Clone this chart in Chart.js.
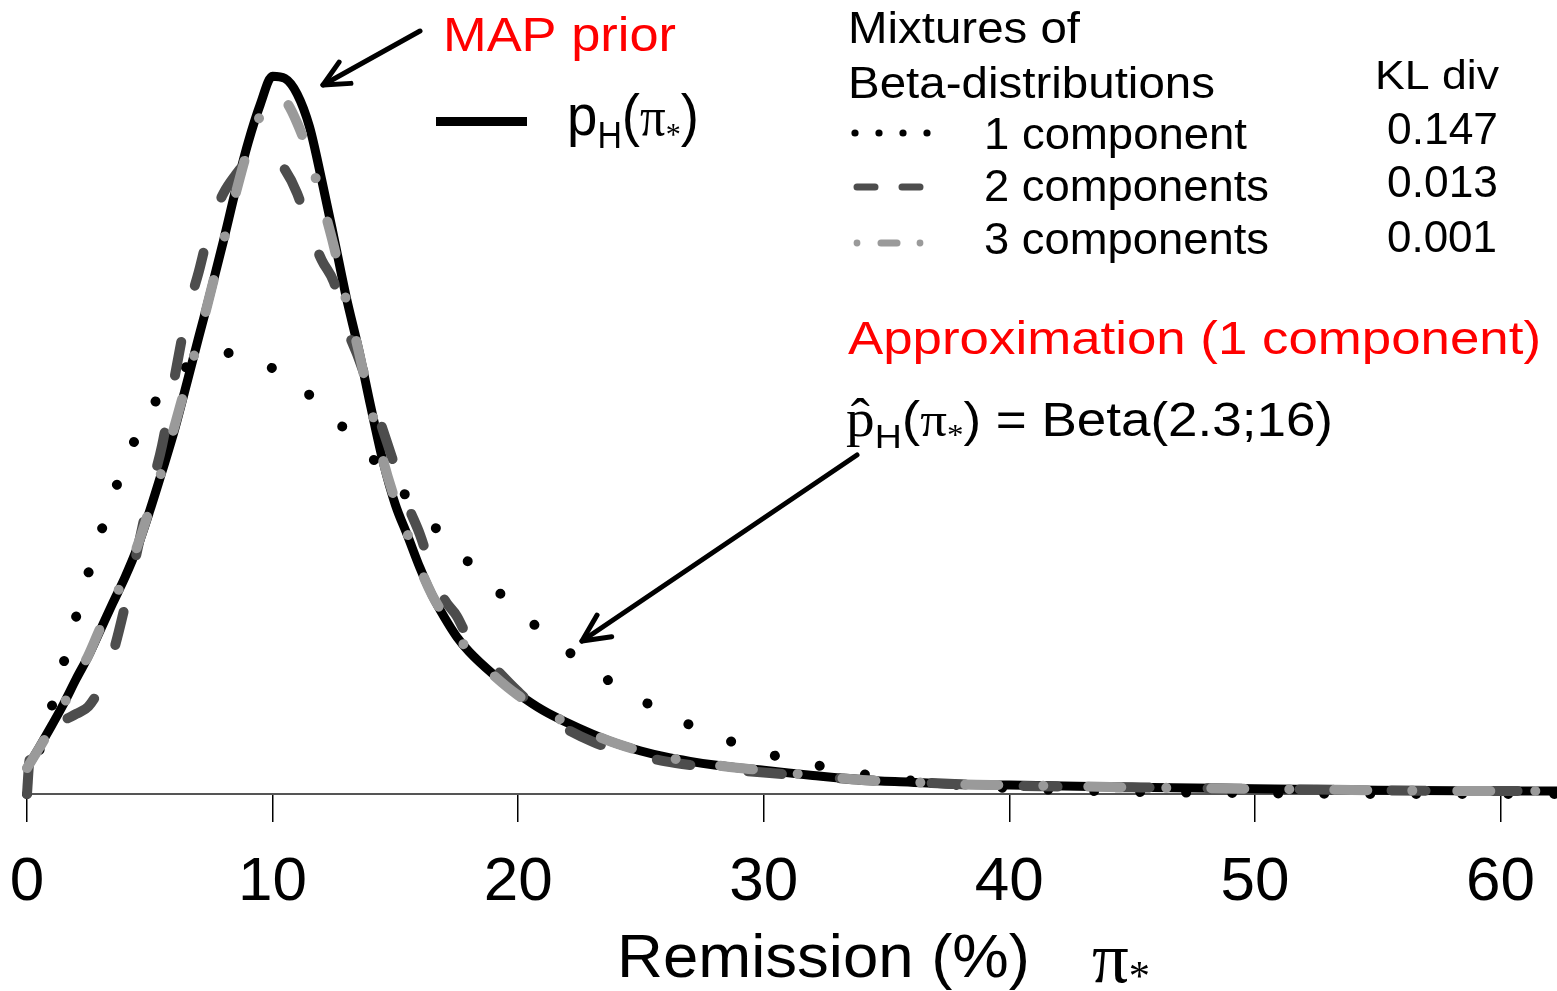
<!DOCTYPE html>
<html><head><meta charset="utf-8">
<script src="https://cdn.jsdelivr.net/npm/chart.js@4/dist/chart.umd.min.js"></script>
<style>html,body{margin:0;padding:0;background:#fff;overflow:hidden}</style>
</head><body>
<canvas id="c" width="1557" height="991"></canvas>
<script>
// ---- data (x = remission %, y = density per %) ----
const xTicks = [0, 10, 20, 30, 40, 50, 60];

const xMAP = [0,0.5,1,1.5,2,2.5,3,3.5,4,4.5,5,5.5,6,6.5,7,7.5,8,8.5,9,9.5,10,10.5,11,11.5,12,12.5,13,13.5,14,14.5,15,15.5,16,16.5,17,17.5,18,19,20,21,22,23,24,25,26,27,28,29,30,32,34,36,38,40,45,50,55,60,62.3];
const yMAP = [0.0035,0.0063,0.0092,0.0122,0.0155,0.0186,0.0222,0.0258,0.0293,0.0333,0.0382,0.0435,0.0490,0.0553,0.0617,0.0680,0.0746,0.0815,0.0878,0.0930,0.0968,0.0965,0.0944,0.0900,0.0828,0.0750,0.0670,0.0600,0.0522,0.0448,0.0390,0.0348,0.0305,0.0268,0.0238,0.0212,0.0192,0.0161,0.0135,0.0113,0.0096,0.0081,0.0068,0.0058,0.0050,0.0044,0.0039,0.0035,0.0032,0.0025,0.0019,0.0016,0.0013,0.0012,0.0009,0.0007,0.0005,0.0004,0.0004];

const x1c = [0,1,1.5,2,2.5,3,3.5,4,4.5,5,6,7,8,9,10,11,12,13,14,15,16,17,18,19,20,21,22,23,24,25,26,27,28,29,30,31,32,33,34,35,36,38,40,45,50,55,62.3];
const y1c = [0,0.0117,0.0178,0.0239,0.0298,0.0352,0.0402,0.0447,0.0485,0.0517,0.0562,0.0586,0.0595,0.0589,0.0574,0.0552,0.0523,0.0490,0.0455,0.0418,0.0382,0.0346,0.0312,0.0279,0.0247,0.0219,0.0193,0.0169,0.0146,0.0127,0.0109,0.0093,0.0079,0.0067,0.0056,0.0047,0.0040,0.0033,0.0027,0.0022,0.0018,0.0012,0.0008,0.0003,0.0001,0,0];

const x2c = [0,0.1,0.5,1,1.5,2,2.5,3,3.5,4,4.5,5,5.5,6,6.5,7,7.5,8,8.5,9,9.5,10,10.5,11,11.5,12,12.5,13,13.5,14,14.5,15,15.5,16,16.5,17,17.5,18,19,20,21,22,23,24,25,26,27,28,30,32,34,36,38,40,45,50,55,60,62.3];
const y2c = [0,0.0045,0.0068,0.0085,0.0099,0.0108,0.0118,0.0145,0.0190,0.0255,0.0330,0.0405,0.0470,0.0560,0.0645,0.0705,0.0770,0.0810,0.0835,0.0855,0.0865,0.0860,0.0842,0.0810,0.0760,0.0720,0.0690,0.0630,0.0588,0.0540,0.0490,0.0440,0.0390,0.0350,0.0300,0.0262,0.0240,0.0208,0.0172,0.0138,0.0108,0.0087,0.0071,0.0059,0.0051,0.0044,0.0039,0.0035,0.0029,0.0024,0.0019,0.0016,0.0013,0.0011,0.0009,0.0007,0.0005,0.0004,0.0004];

const x3c = [0,0.5,1,1.5,2,2.5,3,3.5,4,4.5,5,5.5,6,6.5,7,7.5,8,8.5,9,9.5,10,10.5,11,11.5,12,12.5,13,13.5,14,14.5,15,15.5,16,16.5,17,17.5,18,19,20,21,22,23,24,25,26,27,28,29,30,32,34,36,38,40,45,50,55,60,62.3];
const y3c = [0.0035,0.0062,0.0090,0.0121,0.0155,0.0187,0.0225,0.0259,0.0295,0.0335,0.0385,0.0437,0.0495,0.0555,0.0615,0.0680,0.0745,0.0810,0.0870,0.0915,0.0940,0.0935,0.0905,0.0860,0.0800,0.0738,0.0665,0.0598,0.0522,0.0450,0.0395,0.0350,0.0305,0.0268,0.0240,0.0214,0.0193,0.0160,0.0133,0.0113,0.0096,0.0081,0.0068,0.0058,0.0050,0.0044,0.0039,0.0035,0.0032,0.0025,0.0019,0.0016,0.0013,0.0012,0.0009,0.0007,0.0005,0.0004,0.0004];

const seriesNames = ['pH(π*)', '1 component', '2 components', '3 components'];
const klDiv = ['0.147', '0.013', '0.001'];

// ---- helpers ----
const SANS = '"Liberation Sans", Arial, Helvetica, sans-serif';
const SERIF = '"Liberation Serif", "Times New Roman", serif';
const pts = (xs, ys) => xs.map((x, i) => ({x: x, y: ys[i]}));

function rich(ctx, segs, left, baseline, width) {
  let total = 0;
  const ws = segs.map(s => { ctx.font = s.font; const w = ctx.measureText(s.t).width; total += w; return w; });
  const sx = width ? width / total : 1;
  ctx.save();
  ctx.translate(left, baseline);
  ctx.scale(sx, 1);
  ctx.textBaseline = 'alphabetic';
  ctx.textAlign = 'left';
  let x = 0;
  segs.forEach((s, i) => {
    ctx.font = s.font;
    ctx.fillStyle = s.color || '#000';
    ctx.fillText(s.t, x, s.dy || 0);
    x += ws[i];
  });
  ctx.restore();
}
function txt(ctx, t, left, baseline, size, width, color) {
  rich(ctx, [{t: t, font: size + 'px ' + SANS, color: color}], left, baseline, width);
}
function arrow(ctx, x1, y1, x2, y2, head) {
  ctx.save();
  ctx.strokeStyle = '#000';
  ctx.lineWidth = 5;
  ctx.lineCap = 'round';
  ctx.lineJoin = 'round';
  ctx.beginPath(); ctx.moveTo(x1, y1); ctx.lineTo(x2, y2); ctx.stroke();
  const a = Math.atan2(y2 - y1, x2 - x1);
  ctx.beginPath();
  ctx.moveTo(x2 - head * Math.cos(a - 0.45), y2 - head * Math.sin(a - 0.45));
  ctx.lineTo(x2, y2);
  ctx.lineTo(x2 - head * Math.cos(a + 0.45), y2 - head * Math.sin(a + 0.45));
  ctx.stroke();
  ctx.restore();
}

const annotations = {
  id: 'annotations',
  afterDraw(chart) {
    const ctx = chart.ctx;
    // MAP prior
    txt(ctx, 'MAP prior', 443, 51, 49, 233, '#ff0000');
    arrow(ctx, 420, 31, 323, 85, 28);
    // solid legend line
    ctx.save();
    ctx.strokeStyle = '#000'; ctx.lineWidth = 9; ctx.lineCap = 'butt';
    ctx.beginPath(); ctx.moveTo(436, 121.5); ctx.lineTo(527, 121.5); ctx.stroke();
    ctx.restore();
    rich(ctx, [
      {t: 'p', font: '58px ' + SANS},
      {t: 'H', font: '36px ' + SANS, dy: 13},
      {t: '(', font: '58px ' + SANS},
      {t: 'π', font: '54px ' + SERIF},
      {t: '*', font: '32px ' + SERIF, dy: 10},
      {t: ')', font: '58px ' + SANS}
    ], 567, 135, 132);

    // Mixtures legend
    txt(ctx, 'Mixtures of', 848, 43, 44, 232);
    txt(ctx, 'Beta-distributions', 848, 98, 44, 367);
    txt(ctx, 'KL div', 1375, 89, 40, 124);
    txt(ctx, '1 component', 984, 149, 45, 263);
    txt(ctx, '2 components', 984, 201, 45, 285);
    txt(ctx, '3 components', 984, 254, 45, 285);
    txt(ctx, klDiv[0], 1387, 144, 44, 111);
    txt(ctx, klDiv[1], 1387, 197, 44, 111);
    txt(ctx, klDiv[2], 1387, 252, 44, 110);
    // legend samples
    ctx.save();
    ctx.fillStyle = '#000';
    [855, 879, 903, 927].forEach(x => { ctx.beginPath(); ctx.arc(x, 133, 3.6, 0, 2 * Math.PI); ctx.fill(); });
    ctx.lineCap = 'round'; ctx.lineWidth = 7;
    ctx.strokeStyle = '#4d4d4d';
    ctx.beginPath(); ctx.moveTo(857, 187); ctx.lineTo(875, 187); ctx.moveTo(902, 187); ctx.lineTo(920, 187); ctx.stroke();
    ctx.strokeStyle = '#9a9a9a';
    ctx.beginPath(); ctx.moveTo(881, 243); ctx.lineTo(897, 243); ctx.stroke();
    ctx.fillStyle = '#9a9a9a';
    [857, 920].forEach(x => { ctx.beginPath(); ctx.arc(x, 243, 3.4, 0, 2 * Math.PI); ctx.fill(); });
    ctx.restore();

    // Approximation
    txt(ctx, 'Approximation (1 component)', 848, 354, 46, 693, '#ff0000');
    rich(ctx, [
      {t: 'p\u0302', font: '52px ' + SERIF},
      {t: 'H', font: '34px ' + SANS, dy: 12},
      {t: '(', font: '50px ' + SANS},
      {t: 'π', font: '48px ' + SERIF},
      {t: '*', font: '30px ' + SERIF, dy: 8},
      {t: ') = Beta(2.3;16)', font: '48px ' + SANS}
    ], 846, 436, 487);
    arrow(ctx, 857, 455, 582, 641, 30);

    // axis title
    txt(ctx, 'Remission (%)', 617, 977, 62, 413);
    rich(ctx, [
      {t: 'π', font: '72px ' + SERIF},
      {t: '*', font: '42px ' + SERIF, dy: 8}
    ], 1092, 982, 58);
  }
};

new Chart(document.getElementById('c'), {
  type: 'line',
  data: {
    datasets: [
      {label: seriesNames[0], data: pts(xMAP, yMAP), borderColor: '#000', borderWidth: 9,
       borderCapStyle: 'round', borderJoinStyle: 'round', cubicInterpolationMode: 'monotone', order: 4, clip: false},
      {label: seriesNames[1], data: pts(x1c, y1c), borderColor: '#000', borderWidth: 10,
       borderDash: [0.01, 46], borderCapStyle: 'round', cubicInterpolationMode: 'monotone', order: 3, clip: false},
      {label: seriesNames[2], data: pts(x2c, y2c), borderColor: '#4d4d4d', borderWidth: 10,
       borderDash: [34, 58], borderCapStyle: 'round', borderJoinStyle: 'round', cubicInterpolationMode: 'monotone', order: 2, clip: false},
      {label: seriesNames[3], data: pts(x3c, y3c), borderColor: '#9a9a9a', borderWidth: 10,
       borderDash: [33, 45, 0.01, 45], borderCapStyle: 'round', borderJoinStyle: 'round', cubicInterpolationMode: 'monotone', order: 1, clip: false}
    ]
  },
  options: {
    responsive: false,
    animation: false,
    devicePixelRatio: 1,
    layout: {padding: {left: 27, right: 0, top: 0, bottom: 0}},
    plugins: {legend: {display: false}, tooltip: {enabled: false}},
    elements: {point: {radius: 0, hoverRadius: 0}, line: {fill: false}},
    scales: {
      x: {
        type: 'linear', min: 0, max: 62.3,
        afterFit(s) { s.height = 197; s.paddingLeft = 0; s.paddingRight = 0; },
        afterBuildTicks(s) { s.ticks = xTicks.map(v => ({value: v})); },
        ticks: {
          font: {family: '"Liberation Sans Narrow", "Liberation Sans", Arial, sans-serif', size: 62},
          color: '#000', padding: 24, maxRotation: 0, autoSkip: false,
          callback: v => String(v)
        },
        grid: {drawOnChartArea: false, drawTicks: true, tickLength: 28, color: '#000', lineWidth: 1.5},
        border: {display: true, color: '#555', width: 2}
      },
      y: {display: false, min: 0, max: 0.10707}
    }
  },
  plugins: [annotations]
});
</script>
</body></html>
